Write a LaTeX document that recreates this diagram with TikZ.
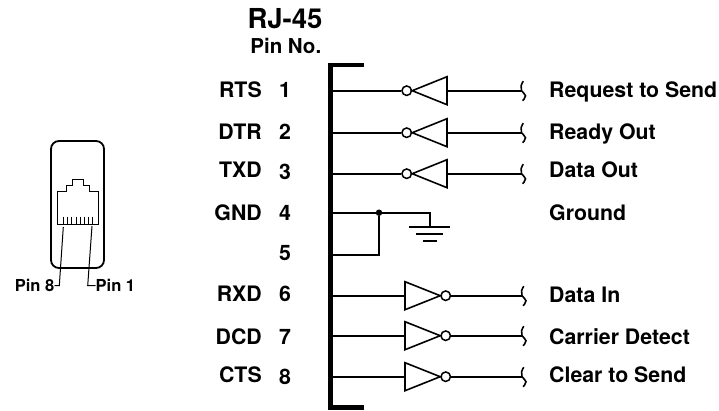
\documentclass[tikz,border=0pt]{standalone}
\usepackage{fontspec}
\setmainfont{TeX Gyre Heros}
\tikzset{
  wire/.style={line width=1.6pt,line cap=butt},
  gate/.style={line width=1.6pt,line join=miter},
  bubble/.style={circle,draw,line width=1.5pt,fill=white,minimum size=9.5pt,inner sep=0pt},
  lab/.style={font=\fontsize{21.3}{23}\bfseries,inner sep=0pt},
  pinlab/.style={font=\fontsize{16.5}{18}\bfseries,inner sep=0pt},
  dot/.style={circle,fill=black,minimum size=6.5pt,inner sep=0pt}
}
\newcommand{\squiggle}[1]{\draw[wire] plot[smooth,tension=.8] coordinates {([shift={(1.8,-9.5)}]#1) ([shift={(-.4,-5)}]#1) (#1) ([shift={(4,5)}]#1) ([shift={(1,10)}]#1)};}
\begin{document}
\begin{tikzpicture}[x=1pt,y=-1pt]
\useasboundingbox (0,0) rectangle (719,410);
% bracket
\coordinate (bt) at (364,65);
\coordinate (bb) at (364,407.3);
\draw[line width=4.8pt,line join=miter] (bt) -- (330.8,65) -- (330.8,407.3) -- (bb);
% headings
\node[font=\fontsize{27.5}{30}\bfseries,inner sep=0pt] (title) at (285,18.5) {RJ-45};
\node[font=\fontsize{20.5}{22}\bfseries,inner sep=0pt] (pinno) at (285.8,45.5) {Pin No.};
% rows with left-pointing inverters
\foreach \i/\y/\sy/\ny/\ty/\sig/\num/\name in {1/90.7/97.7/97.7/97.3/RTS/1/Request to Send,2/132.7/139.3/139/139/DTR/2/Ready Out,3/173.7/177.3/179.3/177.7/TXD/3/Data Out}{
  \coordinate (b\i) at (332,\y);
  \coordinate (e\i) at (521.5,\y);
  \node[bubble] (o\i) at (406.7,\y) {};
  \coordinate (a\i) at (447,\y);
  \draw[wire] (b\i) -- (o\i);
  \draw[gate] (447,\y-14) -- (o\i.east) -- (447,\y+14) -- cycle;
  \draw[wire] (a\i) -- (e\i);
  \squiggle{e\i}
  \node[lab,anchor=base east] (s\i) at (262,\sy) {\sig};
  \node[lab,anchor=base] (n\i) at (285,\ny) {\num};
  \node[lab,anchor=base west] (t\i) at (549,\ty) {\name};
}
% rows with right-pointing inverters
\foreach \i/\y/\sy/\ny/\ty/\sig/\num/\name in {6/295.7/301.7/301.7/302.7/RXD/6/Data In,7/335.7/344/344/344/DCD/7/Carrier Detect,8/376.7/382.7/384/382.7/CTS/8/Clear to Send}{
  \coordinate (b\i) at (332,\y);
  \coordinate (e\i) at (522,\y);
  \node[bubble] (o\i) at (445.7,\y) {};
  \coordinate (a\i) at (405,\y);
  \draw[wire] (b\i) -- (a\i);
  \draw[gate] (405,\y-14) -- (o\i.west) -- (405,\y+14) -- cycle;
  \draw[wire] (o\i) -- (e\i);
  \squiggle{e\i}
  \node[lab,anchor=base east] (s\i) at (262,\sy) {\sig};
  \node[lab,anchor=base] (n\i) at (285,\ny) {\num};
  \node[lab,anchor=base west] (t\i) at (549,\ty) {\name};
}
% ground
\coordinate (b4) at (332,212.7);
\coordinate (b5) at (332,254.7);
\node[dot] (j) at (379,212.7) {};
\coordinate (g) at (430,212.7);
\coordinate (g1) at (430,226.7);
\draw[wire] (b4) -- (j) -- (g) -- (g1);
\draw[wire] (j) |- (b5);
\draw[wire] (409,226.7) -- (450,226.7);
\draw[wire] (416,233.7) -- (443,233.7);
\draw[wire] (422.5,240.7) -- (437,240.7);
\node[lab,anchor=base east] (s4) at (262,220) {GND};
\node[lab,anchor=base] (n4) at (285,220) {4};
\node[lab,anchor=base] (n5) at (285,260.7) {5};
\node[lab,anchor=base west] (t4) at (549,220.7) {Ground};
% jack
\draw[line width=1.8pt,rounded corners=8pt] (51,141) rectangle (104,268);
\draw[line width=1pt,line join=miter] (57,224) -- (57,191.7) -- (66.7,191.7) -- (66.7,185) -- (72,185) -- (72,179.3) -- (83,179.3) -- (83,185) -- (89,185) -- (89,191.7) -- (98.3,191.7) -- (98.3,224) -- cycle;
\foreach \k in {0,...,7}{ \draw[line width=.8pt] (63.3+\k*4.2,216.7) -- (63.3+\k*4.2,224); }
\node[pinlab,anchor=east] (p8) at (54.5,285.5) {Pin 8};
\node[pinlab,anchor=west] (p1) at (95.5,285.5) {Pin 1};
\coordinate (t8) at (63.3,227);
\coordinate (t1) at (92,226);
\draw[line width=1pt] (t8) -- (59.3,285.7) -- (p8.east);
\draw[line width=1pt] (t1) -- (87.7,285.7) -- (p1.west);
\end{tikzpicture}
\end{document}
